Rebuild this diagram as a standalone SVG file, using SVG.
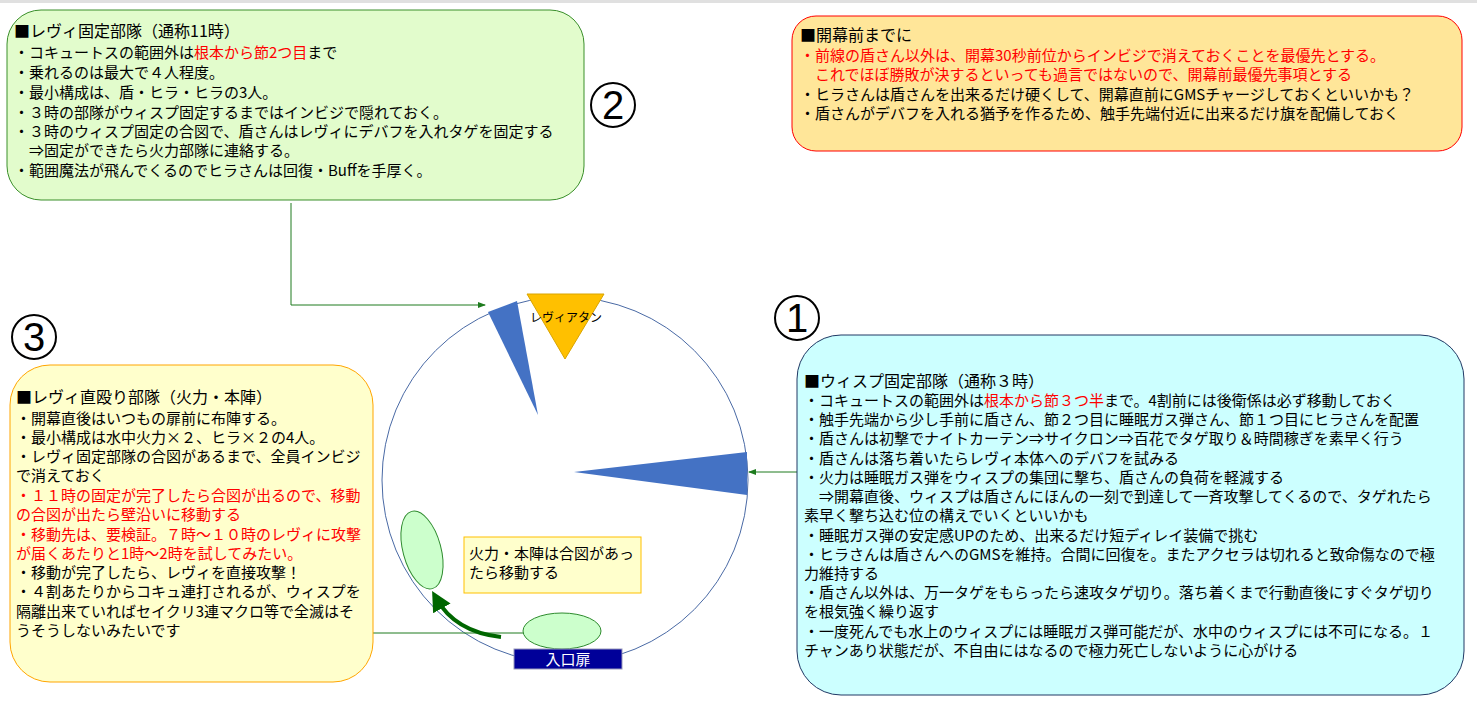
<svg xmlns="http://www.w3.org/2000/svg" width="1477" height="709" viewBox="0 0 1477 709">
<defs>
<style>
text{font-family:"Noto Sans CJK JP","Liberation Sans",sans-serif;font-size:15px;fill:#000}
.t{font-size:16px}
.r{fill:#ff0000}
.num{font-family:"Liberation Sans","Noto Sans CJK JP",sans-serif;font-size:40px;text-anchor:middle}
.conn{stroke:#1e7b1e;stroke-width:1;fill:none}
</style>
<marker id="ah" markerWidth="8" markerHeight="8" refX="7" refY="4" orient="auto" markerUnits="userSpaceOnUse"><path d="M0,1 L8,4 L0,7 Z" fill="#1e7b1e"/></marker>
<marker id="ahb" markerWidth="6" markerHeight="6" refX="3" refY="3" orient="auto"><path d="M0,0.5 L5,3 L0,5.5 Z" fill="#006600"/></marker>
</defs>
<rect x="0" y="0" width="1477" height="3" fill="#e0e0e0"/>
<g id="arena">
<circle cx="565" cy="480" r="183" fill="#fff" stroke="#4a6aa5" stroke-width="1"/>
<polygon points="488,312 517,301 538,415" fill="#4472c4"/>
<polygon points="574,472 747,452 747,495" fill="#4472c4"/>
<polygon points="527,294 604,294 565,359" fill="#ffc000" stroke="#d9a400"/>
<text x="530" y="322" style="font-size:12px">レヴィアタン</text>
</g>
<g id="connectors">
<polyline class="conn" points="291,203 291,305 485,305" marker-end="url(#ah)"/>
<line class="conn" x1="797" y1="472" x2="749" y2="472" marker-end="url(#ah)"/>
<line class="conn" x1="373" y1="633" x2="524" y2="633"/>
<path d="M501,637 Q455,632 436,598" stroke="#006600" stroke-width="4" fill="none" marker-end="url(#ahb)"/>
</g>
<g id="party-left"><ellipse cx="422" cy="550" rx="19" ry="40" transform="rotate(-15 422 550)" fill="#ccffcc" stroke="#2e8b2e"/></g>
<g id="party-door"><ellipse cx="562" cy="631" rx="39" ry="18" fill="#ccffcc" stroke="#2e8b2e"/></g>
<g id="door"><rect x="514" y="649" width="108" height="20" fill="#000099" stroke="#9999bb"/><text x="568" y="665" style="fill:#fff;font-size:15px;text-anchor:middle">入口扉</text></g>
<g id="note"><rect x="464" y="537" width="177" height="56" fill="#ffffcc" stroke="#ffc000"/><text x="469" y="559">火力・本陣は合図があっ</text><text x="469" y="578">たら移動する</text></g>
<g id="n2"><circle cx="613" cy="105" r="22" fill="none" stroke="#000" stroke-width="2"/><text class="num" x="613" y="119">2</text></g>
<g id="n1"><circle cx="797" cy="318" r="22" fill="none" stroke="#000" stroke-width="2"/><text class="num" x="797" y="332">1</text></g>
<g id="n3"><circle cx="34" cy="337" r="22" fill="none" stroke="#000" stroke-width="2"/><text class="num" x="34" y="351">3</text></g>
<g id="box-levi-fix">
<rect x="7" y="10" width="577" height="190" rx="34" fill="#e2fccc" stroke="#3a8f2a"/>
<text class="t" x="14" y="37">■レヴィ固定部隊（通称11時）</text>
<text x="14" y="58">・コキュートスの範囲外は<tspan class="r">根本から節2つ目</tspan>まで</text>
<text x="14" y="78">・乗れるのは最大で４人程度。</text>
<text x="14" y="98">・最小構成は、盾・ヒラ・ヒラの3人。</text>
<text x="14" y="118">・３時の部隊がウィスプ固定するまではインビジで隠れておく。</text>
<text x="14" y="137">・３時のウィスプ固定の合図で、盾さんはレヴィにデバフを入れタゲを固定する</text>
<text x="14" y="156">　⇒固定ができたら火力部隊に連絡する。</text>
<text x="14" y="176">・範囲魔法が飛んでくるのでヒラさんは回復・Buffを手厚く。</text>
</g>
<g id="box-before">
<rect x="792" y="16" width="670" height="135" rx="24" fill="#ffe699" stroke="#ff0000"/>
<text class="t" x="800" y="41">■開幕前までに</text>
<text x="800" y="61" class="r">・前線の盾さん以外は、開幕30秒前位からインビジで消えておくことを最優先とする。</text>
<text x="800" y="80" class="r">　これでほぼ勝敗が決するといっても過言ではないので、開幕前最優先事項とする</text>
<text x="800" y="100">・ヒラさんは盾さんを出来るだけ硬くして、開幕直前にGMSチャージしておくといいかも？</text>
<text x="800" y="119">・盾さんがデバフを入れる猶予を作るため、触手先端付近に出来るだけ旗を配備しておく</text>
</g>
<g id="box-wisp">
<rect x="797" y="335" width="667" height="360" rx="44" fill="#ccffff" stroke="#203864"/>
<text class="t" x="804" y="387">■ウィスプ固定部隊（通称３時）</text>
<text x="804" y="406">・コキュートスの範囲外は<tspan class="r">根本から節３つ半</tspan>まで。4割前には後衛係は必ず移動しておく</text>
<text x="804" y="425">・触手先端から少し手前に盾さん、節２つ目に睡眠ガス弾さん、節１つ目にヒラさんを配置</text>
<text x="804" y="444">・盾さんは初撃でナイトカーテン⇒サイクロン⇒百花でタゲ取り＆時間稼ぎを素早く行う</text>
<text x="804" y="464">・盾さんは落ち着いたらレヴィ本体へのデバフを試みる</text>
<text x="804" y="483">・火力は睡眠ガス弾をウィスプの集団に撃ち、盾さんの負荷を軽減する</text>
<text x="804" y="502">　⇒開幕直後、ウィスプは盾さんにほんの一刻で到達して一斉攻撃してくるので、タゲれたら</text>
<text x="804" y="521">素早く撃ち込む位の構えでいくといいかも</text>
<text x="804" y="541">・睡眠ガス弾の安定感UPのため、出来るだけ短ディレイ装備で挑む</text>
<text x="804" y="560">・ヒラさんは盾さんへのGMSを維持。合間に回復を。またアクセラは切れると致命傷なので極</text>
<text x="804" y="579">力維持する</text>
<text x="804" y="598">・盾さん以外は、万一タゲをもらったら速攻タゲ切り。落ち着くまで行動直後にすぐタゲ切り</text>
<text x="804" y="617">を根気強く繰り返す</text>
<text x="804" y="637">・一度死んでも水上のウィスプには睡眠ガス弾可能だが、水中のウィスプには不可になる。１</text>
<text x="804" y="656">チャンあり状態だが、不自由にはなるので極力死亡しないように心がける</text>
</g>
<g id="box-direct">
<rect x="10" y="365" width="363" height="317" rx="40" fill="#ffffcc" stroke="#ffa500"/>
<text class="t" x="16" y="403">■レヴィ直殴り部隊（火力・本陣）</text>
<text x="16" y="424">・開幕直後はいつもの扉前に布陣する。</text>
<text x="16" y="443">・最小構成は水中火力×２、ヒラ×２の4人。</text>
<text x="16" y="462">・レヴィ固定部隊の合図があるまで、全員インビジ</text>
<text x="16" y="481">で消えておく</text>
<text x="16" y="501" class="r">・１１時の固定が完了したら合図が出るので、移動</text>
<text x="16" y="520" class="r">の合図が出たら壁沿いに移動する</text>
<text x="16" y="540" class="r">・移動先は、要検証。７時～１０時のレヴィに攻撃</text>
<text x="16" y="559" class="r">が届くあたりと1時～2時を試してみたい。</text>
<text x="16" y="578">・移動が完了したら、レヴィを直接攻撃！</text>
<text x="16" y="597">・４割あたりからコキュ連打されるが、ウィスプを</text>
<text x="16" y="617">隔離出来ていればセイクリ3連マクロ等で全滅はそ</text>
<text x="16" y="636">うそうしないみたいです</text>
</g>
</svg>
